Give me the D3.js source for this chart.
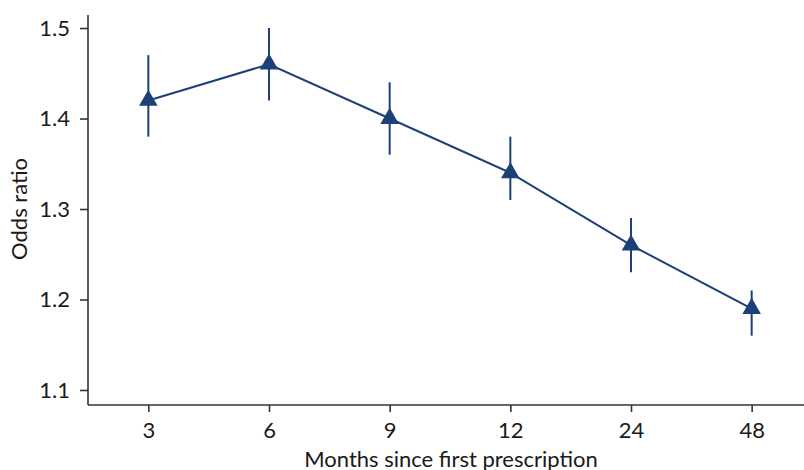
<!DOCTYPE html>
<html><head><meta charset="utf-8">
<script src="https://cdn.jsdelivr.net/npm/d3@7"></script>
<style>body{margin:0;background:#fff}svg{display:block;font-family:Lato,"Open Sans",sans-serif}</style>
</head><body><svg id="c" width="804" height="470"></svg>
<script>
const months = ["3","6","9","12","24","48"];
const oddsRatio = [1.42, 1.46, 1.40, 1.34, 1.26, 1.19];
const ciLower = [1.38, 1.42, 1.36, 1.31, 1.23, 1.16];
const ciUpper = [1.47, 1.50, 1.44, 1.38, 1.29, 1.21];
const yTicks = [1.1, 1.2, 1.3, 1.4, 1.5];

const color = "#1d4077";
const svg = d3.select("#c");
const x = d3.scalePoint().domain(months).range([88, 812]).padding(0.5);
const y = d3.scaleLinear().domain([1.0834, 1.5144]).range([405, 15]);
const data = months.map((m,i)=>({m, v:oddsRatio[i], lo:ciLower[i], hi:ciUpper[i]}));

const xa = svg.append("g").attr("transform","translate(0,405)")
  .call(d3.axisBottom(x).tickSizeOuter(0).tickSize(7).tickPadding(10));
xa.select(".domain").attr("d","M88,0H804");
const ya = svg.append("g").attr("transform","translate(88,0)")
  .call(d3.axisLeft(y).tickValues(yTicks).tickFormat(d3.format(".1f")).tickSize(8).tickSizeOuter(0).tickPadding(10));
ya.select(".domain").attr("d","M0,15V405");
svg.selectAll(".domain, .tick line").attr("stroke","#333").attr("stroke-width",1.6);
svg.selectAll(".tick text").attr("fill","#1a1a1a").style("font-size","22px").style("font-family","Lato");

svg.append("g").selectAll("line").data(data).join("line")
  .attr("x1",d=>x(d.m)).attr("x2",d=>x(d.m))
  .attr("y1",d=>y(d.lo)).attr("y2",d=>y(d.hi))
  .attr("stroke",color).attr("stroke-width",2);

svg.append("path").datum(data)
  .attr("d", d3.line().x(d=>x(d.m)).y(d=>y(d.v)))
  .attr("fill","none").attr("stroke",color).attr("stroke-width",2);

svg.append("g").selectAll("path").data(data).join("path")
  .attr("transform",d=>`translate(${x(d.m)},${y(d.v)})`)
  .attr("d", d3.symbol(d3.symbolTriangle, 150))
  .attr("fill",color);

svg.append("text").attr("transform","translate(27,209) rotate(-90)")
  .attr("text-anchor","middle").style("font-size","22px").attr("fill","#1a1a1a")
  .text("Odds ratio");
svg.append("text").attr("x",451).attr("y",467)
  .attr("text-anchor","middle").style("font-size","22px").attr("fill","#1a1a1a")
  .text("Months since first prescription");
</script></body></html>
